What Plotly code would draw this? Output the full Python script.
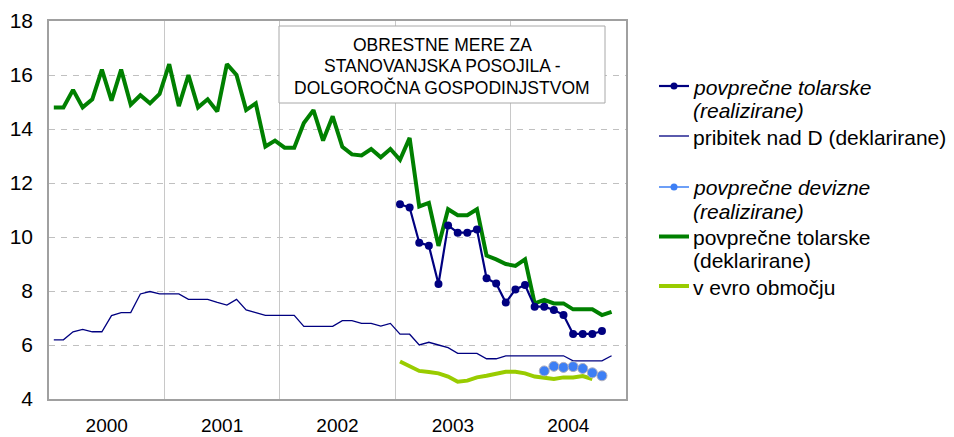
import plotly.graph_objects as go

# ---------------- data ----------------
years = ["2000", "2001", "2002", "2003", "2004"]
months = [f"{y}-{m:02d}" for y in years for m in range(1, 13)]

tolarske_deklarirane = [
    14.8, 14.8, 15.45, 14.8, 15.1, 16.2, 15.05, 16.2, 14.9, 15.25, 14.95, 15.3,
    16.4, 14.85, 16.0, 14.8, 15.1, 14.65, 16.4, 16.0, 14.7, 14.95, 13.35, 13.57,
    13.31, 13.31, 14.22, 14.7, 13.57, 14.47, 13.34, 13.06, 13.02, 13.26, 12.95, 13.26,
    12.86, 13.67, 11.13, 11.26, 9.67, 11.03, 10.81, 10.81, 11.03, 9.31, 9.17, 9.0,
    8.93, 9.17, 7.54, 7.67, 7.54, 7.54, 7.32, 7.32, 7.32, 7.11, 7.23, None,
]

pribitek_nad_D = [
    6.19, 6.19, 6.49, 6.58, 6.49, 6.49, 7.09, 7.2, 7.2, 7.89, 7.98, 7.89,
    7.89, 7.89, 7.69, 7.69, 7.69, 7.58, 7.48, 7.69, 7.3, 7.2, 7.1, 7.1,
    7.1, 7.1, 6.69, 6.69, 6.69, 6.69, 6.9, 6.9, 6.8, 6.8, 6.7, 6.8,
    6.4, 6.4, 6.0, 6.1, 6.0, 5.9, 5.69, 5.69, 5.69, 5.49, 5.49, 5.6,
    5.6, 5.6, 5.6, 5.6, 5.6, 5.6, 5.41, 5.41, 5.41, 5.41, 5.6, None,
]

tolarske_realizirane = [None] * 36 + [
    11.21, 11.09, 9.79, 9.68, 8.26, 10.43, 10.16, 10.16, 10.28, 8.47, 8.28, 7.57,
    8.06, 8.22, 7.42, 7.42, 7.3, 7.11, 6.41, 6.41, 6.41, 6.52, None, None,
]

evro_obmocje = [None] * 36 + [
    5.39, 5.2, 5.04, 5.0, 4.95, 4.83, 4.64, 4.68, 4.8, 4.86, 4.93, 5.01,
    5.01, 4.95, 4.83, 4.77, 4.74, 4.8, 4.8, 4.85, 4.74, None, None, None,
]

devizne_realizirane = [None] * 51 + [5.04, 5.21, 5.17, 5.2, 5.13, 4.97, 4.86, None, None]

y_ticks = [4, 6, 8, 10, 12, 14, 16, 18]
title_lines = ["OBRESTNE MERE ZA", "STANOVANJSKA POSOJILA -", "DOLGOROČNA GOSPODINJSTVOM"]

# ---------------- styling ----------------
NAVY = "#000080"
GREEN = "#008000"
LIGHTBLUE = "#3d7ff5"
YGREEN = "#99cc00"
FONT = "Liberation Sans, Arial, sans-serif"

OFF = 8                      # page body margin in the browser
SW, SH = 954, 437            # screen size
W, H = SW - OFF, SH - OFF    # figure size
PL, PR, PT, PB = 49, 626, 21, 399  # plot area in screen pixels


def px(x):
    return (x - PL) / (PR - PL)


def py(y):
    return (PB - y) / (PB - PT)


xs = [i + 0.5 for i in range(len(months))]

fig = go.Figure()

fig.add_trace(go.Scatter(x=xs, y=pribitek_nad_D, mode="lines",
                         line=dict(color=NAVY, width=1.3), name="pribitek nad D (deklarirane)"))
fig.add_trace(go.Scatter(x=xs, y=evro_obmocje, mode="lines",
                         line=dict(color=YGREEN, width=4), name="v evro območju"))
fig.add_trace(go.Scatter(x=xs, y=tolarske_deklarirane, mode="lines",
                         line=dict(color=GREEN, width=4), name="povprečne tolarske (deklarirane)"))
fig.add_trace(go.Scatter(x=xs, y=tolarske_realizirane, mode="lines+markers",
                         line=dict(color=NAVY, width=2.2),
                         marker=dict(color=NAVY, size=8),
                         name="povprečne tolarske (realizirane)"))
fig.add_trace(go.Scatter(x=xs, y=devizne_realizirane, mode="lines+markers",
                         line=dict(color=LIGHTBLUE, width=1.5),
                         marker=dict(color=LIGHTBLUE, size=10, line=dict(color="#b0b0c0", width=1)),
                         name="povprečne devizne (realizirane)"))

shapes = []
annotations = []

# title box
shapes.append(dict(type="rect", xref="paper", yref="paper",
                   x0=px(279), x1=px(605), y0=py(26), y1=py(103),
                   fillcolor="white", line=dict(color="#a8a8a8", width=1), layer="above"))
for txt, yy in zip(title_lines, [45, 66.5, 87.5]):
    annotations.append(dict(xref="paper", yref="paper", x=px(442), y=py(yy),
                            text=txt, showarrow=False, xanchor="center", yanchor="middle",
                            font=dict(family=FONT, size=17.5, color="black")))

# legend (manual, to match the spacing of the reference)
legend_items = [
    (NAVY, 2.2, True, 8, ["<i>povprečne tolarske</i>", "<i>(realizirane)</i>"], 86),
    (NAVY, 1.3, False, 0, ["pribitek nad D (deklarirane)"], 136),
    (LIGHTBLUE, 1.5, True, 8, ["<i>povprečne devizne</i>", "<i>(realizirane)</i>"], 187),
    (GREEN, 4, False, 0, ["povprečne tolarske", "(deklarirane)"], 236.5),
    (YGREEN, 4, False, 0, ["v evro območju"], 286),
]
for color, lw, has_marker, msize, lines, y0 in legend_items:
    shapes.append(dict(type="line", xref="paper", yref="paper",
                       x0=px(659), x1=px(689), y0=py(y0), y1=py(y0),
                       line=dict(color=color, width=lw)))
    if has_marker:
        r = msize / 2 - 0.5
        shapes.append(dict(type="circle", xref="paper", yref="paper",
                           x0=px(674 - r), x1=px(674 + r), y0=py(y0 - r), y1=py(y0 + r),
                           fillcolor=color, line=dict(color=color, width=0)))
    for k, t in enumerate(lines):
        annotations.append(dict(xref="paper", yref="paper", x=px(691), y=py(y0 + 1 + k * 23),
                                text=t, showarrow=False, xanchor="left", yanchor="middle",
                                font=dict(family=FONT, size=21, color="black")))

fig.update_layout(
    width=W, height=H,
    margin=dict(l=PL - OFF, r=SW - PR, t=PT - OFF, b=SH - PB, pad=0, autoexpand=False),
    paper_bgcolor="white", plot_bgcolor="white",
    showlegend=False,
    font=dict(family=FONT, color="black"),
    shapes=shapes, annotations=annotations,
)

fig.update_xaxes(
    range=[0, len(months)],
    tickmode="array",
    tickvals=[6 + 12 * i for i in range(len(years))],
    ticktext=years,
    showgrid=False, zeroline=False, automargin=False,
    ticks="", ticklabelstandoff=8,
    tickfont=dict(family=FONT, size=19, color="black"),
    showline=True, linecolor="#a0a0a0", linewidth=1.5, mirror=True,
    minor=dict(tickmode="array", tickvals=[12 * i for i in range(1, len(years))],
               showgrid=True, gridcolor="#c8c8c8", gridwidth=1, ticks=""),
)

fig.update_yaxes(
    range=[4, 18],
    tickmode="array", tickvals=y_ticks,
    showgrid=True, gridcolor="#c0c0c0", gridwidth=1, griddash="6px,6px",
    zeroline=False, ticks="", ticklabelstandoff=10, automargin=False,
    tickfont=dict(family=FONT, size=21, color="black"),
    showline=True, linecolor="#a0a0a0", linewidth=1.5, mirror=True,
)

fig.write_html("out.html")
